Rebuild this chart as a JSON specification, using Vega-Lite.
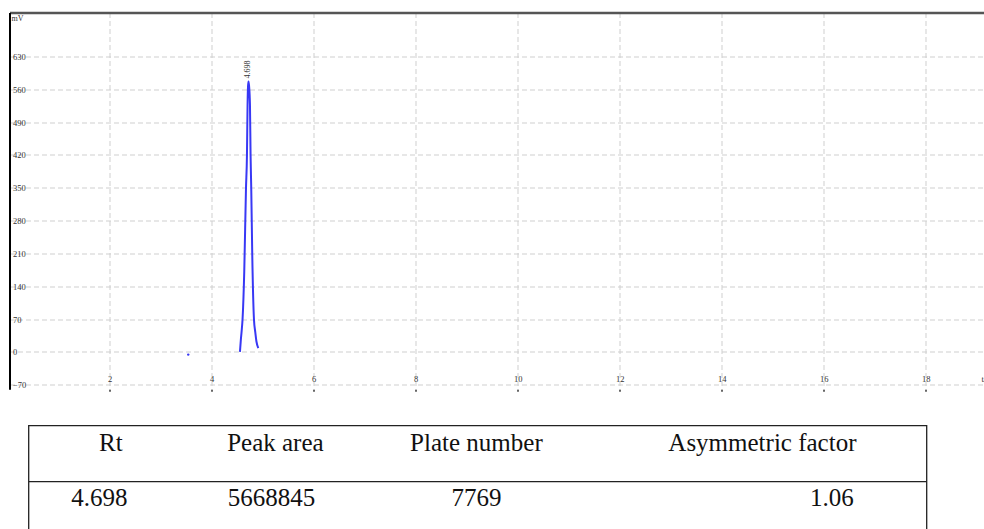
{
  "$schema": "https://vega.github.io/schema/vega-lite/v6.json",
  "background": "white",
  "padding": {"left": 9.5, "top": 12.5, "right": 0, "bottom": 0},
  "config": {"view": {"stroke": null}},
  "datasets": {
    "signal": [
      {"t": 4.557, "mV": 0}, {"t": 4.573, "mV": 24}, {"t": 4.588, "mV": 42}, {"t": 4.608, "mV": 70},
      {"t": 4.641, "mV": 171}, {"t": 4.675, "mV": 349}, {"t": 4.694, "mV": 420}, {"t": 4.706, "mV": 527},
      {"t": 4.716, "mV": 568}, {"t": 4.725, "mV": 577}, {"t": 4.735, "mV": 568}, {"t": 4.753, "mV": 527},
      {"t": 4.765, "mV": 420}, {"t": 4.778, "mV": 349}, {"t": 4.798, "mV": 207}, {"t": 4.831, "mV": 70},
      {"t": 4.857, "mV": 42}, {"t": 4.88, "mV": 22}, {"t": 4.916, "mV": 8}
    ],
    "dot": [{"t": 3.543, "mV": -6}],
    "apex": [{"t": 4.725, "mV": 577, "label": "4.698"}],
    "table": [
      {"row": "header", "col": 1, "text": "Rt"},
      {"row": "header", "col": 2, "text": "Peak area"},
      {"row": "header", "col": 3, "text": "Plate number"},
      {"row": "header", "col": 4, "text": "Asymmetric factor"},
      {"row": "value", "col": 1, "text": "4.698"},
      {"row": "value", "col": 2, "text": "5668845"},
      {"row": "value", "col": 3, "text": "7769"},
      {"row": "value", "col": 4, "text": "1.06"}
    ]
  },
  "spacing": 32,
  "vconcat": [
    {
      "width": 974,
      "height": 376.8,
      "encoding": {
        "y": {
          "field": "mV", "type": "quantitative",
          "scale": {"domain": [-80, 724], "nice": false, "zero": false},
          "axis": {
            "values": [-70, 0, 70, 140, 210, 280, 350, 420, 490, 560, 630],
            "title": "mV", "titleAngle": 0, "titleX": 1.5, "titleY": 6, "titleAlign": "left",
            "titleBaseline": "middle", "titleFont": "Liberation Serif", "titleFontSize": 8,
            "titleFontWeight": "normal", "titleColor": "#333",
            "domainColor": "#000", "domainWidth": 2, "ticks": false,
            "labelAlign": "left", "labelPadding": -3, "labelBaseline": "middle",
            "labelFont": "Liberation Serif", "labelFontSize": 8.5, "labelColor": "#333",
            "labelFlush": false, "labelOverlap": false, "labelBound": false,
            "grid": true, "gridColor": "#cfcfcf", "gridDash": [5, 3], "gridWidth": 1
          }
        }
      },
      "layer": [
        {
          "data": {"name": "signal"},
          "mark": {"type": "line", "color": "#3838f5", "strokeWidth": 2, "interpolate": "monotone"},
          "encoding": {
            "x": {
              "field": "t", "type": "quantitative",
              "scale": {"domain": [0.04, 19.13], "nice": false, "zero": false},
              "axis": {
                "orient": "bottom", "values": [2, 4, 6, 8, 10, 12, 14, 16, 18],
                "title": "t/min", "titleX": 971.5, "titleY": -6, "titleAlign": "left", "titleAnchor": "start",
                "titleBaseline": "bottom", "titleFont": "Liberation Serif", "titleFontSize": 8.5,
                "titleFontWeight": "normal", "titleColor": "#333",
                "domain": false, "ticks": true, "tickSize": 2, "tickColor": "#333", "tickWidth": 1.5,
                "labelPadding": -8, "labelBaseline": "bottom", "labelFont": "Liberation Serif",
                "labelFontSize": 8.5, "labelColor": "#333", "labelFlush": false, "labelOverlap": false,
                "grid": true, "gridColor": "#cfcfcf", "gridDash": [5, 3], "gridWidth": 1
              }
            }
          }
        },
        {
          "data": {"name": "dot"},
          "mark": {"type": "point", "filled": true, "size": 6, "color": "#3838f5", "opacity": 1},
          "encoding": {
            "x": {
              "field": "t", "type": "quantitative",
              "axis": {"orient": "top", "labels": false, "ticks": false, "grid": false, "domain": true,
                       "domainColor": "#555", "domainWidth": 2.5, "title": null}
            }
          }
        },
        {
          "data": {"name": "apex"},
          "mark": {"type": "text", "angle": 270, "align": "left", "baseline": "middle", "dx": 3, "dy": -1,
                   "font": "Liberation Serif", "fontSize": 8, "color": "#333"},
          "encoding": {
            "x": {"field": "t", "type": "quantitative", "axis": null},
            "text": {"field": "label"}
          }
        }
      ],
      "resolve": {"axis": {"x": "independent"}}
    },
    {
      "spacing": 0,
      "hconcat": [
        {
          "width": 15, "height": 10,
          "data": {"values": []},
          "mark": {"type": "point"},
          "encoding": {}
        },
        {
          "width": 898,
          "height": 111.4,
          "view": {"stroke": "#222", "strokeWidth": 1.3},
          "data": {"name": "table"},
          "encoding": {
            "y": {"field": "row", "type": "nominal", "axis": null,
                  "scale": {"domain": ["header", "value"], "paddingInner": 0, "paddingOuter": 0}}
          },
          "layer": [
            {
              "mark": {"type": "point", "opacity": 0},
              "encoding": {
                "x": {"field": "col", "type": "quantitative",
                      "scale": {"domain": [1, 4], "nice": false, "zero": false},
                      "axis": {"orient": "top", "offset": -55.7, "domain": true, "domainColor": "#222",
                               "domainWidth": 1.3, "labels": false, "ticks": false, "grid": false, "title": null}}
              }
            },
            {
              "transform": [{"filter": "datum.row === 'header'"}],
              "mark": {"type": "text", "font": "Liberation Serif", "fontSize": 25, "color": "#111",
                       "baseline": "alphabetic", "align": "center", "dy": -2},
              "encoding": {
                "x": {"field": "col", "type": "quantitative", "axis": null,
                      "scale": {"domain": [1, 2, 3, 4], "range": [82.3, 246.9, 447.9, 733.9], "nice": false, "zero": false}},
                "text": {"field": "text"}
              }
            },
            {
              "transform": [{"filter": "datum.row === 'value'"}],
              "mark": {"type": "text", "font": "Liberation Serif", "fontSize": 25, "color": "#111",
                       "baseline": "alphabetic", "align": "center", "dy": -3},
              "encoding": {
                "x": {"field": "col", "type": "quantitative", "axis": null,
                      "scale": {"domain": [1, 2, 3, 4], "range": [70.9, 242.9, 447.9, 803.4], "nice": false, "zero": false}},
                "text": {"field": "text"}
              }
            }
          ],
          "resolve": {"scale": {"x": "independent"}}
        }
      ]
    }
  ]
}
